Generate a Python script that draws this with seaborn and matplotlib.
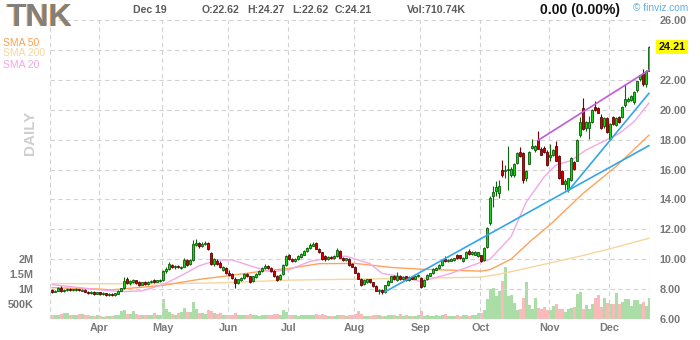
import numpy as np
import pandas as pd
import matplotlib
matplotlib.use("Agg")
import matplotlib.pyplot as plt
import seaborn as sns

sns.set_theme(style="white")
plt.rcParams['font.family'] = ['Liberation Sans', 'DejaVu Sans']

# ---------------- data ----------------
ticker = "TNK"
holidays = ['2019-04-19', '2019-05-27', '2019-07-04', '2019-09-02', '2019-11-28']
start_date, end_date = '2019-03-08', '2019-12-19'

opens = [
    # Mar
    7.92, 7.82, 7.88, 8.08, 7.86, 7.92, 8.00, 7.93, 7.95, 8.00, 7.90, 7.95, 7.82, 7.72, 7.80, 7.70,
    # Apr
    7.78, 7.68, 7.72, 7.60, 7.70, 7.58, 7.70, 7.90, 8.05, 8.70, 8.40, 8.50, 8.60, 8.45, 8.30, 8.50,
    8.35, 8.50, 8.60, 8.50, 8.55,
    # May
    8.60, 9.20, 9.35, 9.60, 9.45, 9.55, 9.42, 9.50, 9.95, 9.70, 9.95, 10.95, 11.10, 10.90, 11.00,
    11.10, 10.40, 9.65, 9.90, 9.75, 9.30, 9.40,
    # Jun
    9.10, 9.00, 8.70, 8.40, 8.60, 8.75, 9.00, 8.85, 8.55, 8.80, 9.00, 9.20, 9.40, 9.55, 9.40, 9.20,
    8.90, 8.65, 9.00, 9.60,
    # Jul
    10.25, 10.00, 9.85, 10.00, 10.15, 10.30, 10.55, 10.75, 10.90, 11.10, 10.70, 10.45, 10.20, 10.00,
    10.15, 10.05, 10.20, 10.55, 10.10, 9.95, 10.00, 9.70,
    # Aug
    9.50, 9.05, 8.70, 8.35, 8.50, 8.65, 8.45, 8.20, 7.85, 7.95, 7.80, 8.25, 8.50, 8.90, 8.60, 8.85,
    8.65, 8.85, 8.60, 8.80, 8.70, 8.85,
    # Sep
    8.75, 8.20, 8.65, 8.90, 9.05, 9.30, 9.40, 9.60, 10.00, 9.85, 9.90, 9.95, 10.30, 10.25, 9.85,
    10.10, 10.55, 10.35, 10.30, 10.20,
    # Oct
    10.25, 9.95, 10.80, 12.45, 14.25, 14.55, 14.40, 15.95, 15.90, 15.95, 15.60, 15.60, 16.45, 17.15,
    17.10, 15.40, 16.40, 17.45, 17.30, 17.95, 17.40, 17.45, 17.20,
    # Nov
    16.85, 17.00, 17.60, 16.90, 15.90, 15.05, 14.60, 15.30, 16.50, 16.60, 18.30, 20.10, 18.75, 18.80,
    19.20, 20.20, 20.10, 19.50, 18.90, 19.45,
    # Dec
    18.05, 19.50, 18.95, 19.50, 19.50, 20.30, 20.60, 20.65, 20.50, 21.30, 22.05, 22.40, 21.70, 22.62,
]
highs = [
    7.98, 7.95, 8.15, 8.20, 8.00, 8.05, 8.06, 8.02, 8.05, 8.04, 8.02, 7.98, 7.86, 7.85, 7.84, 7.82,
    7.82, 7.80, 7.76, 7.74, 7.72, 7.76, 7.94, 8.10, 8.80, 8.82, 8.60, 8.66, 8.64, 8.52, 8.50, 8.56,
    8.54, 8.60, 8.66, 8.64, 8.66,
    9.30, 9.45, 9.80, 9.68, 9.60, 9.62, 9.56, 10.10, 10.02, 10.00, 11.30, 11.35, 11.15, 11.12, 11.20,
    11.14, 10.50, 10.10, 9.98, 9.85, 9.56, 9.48,
    9.25, 9.06, 8.78, 8.70, 8.80, 9.08, 9.05, 8.90, 8.90, 9.05, 9.26, 9.45, 9.70, 9.62, 9.45, 9.25,
    8.94, 9.00, 9.65, 10.30,
    10.35, 10.08, 10.05, 10.25, 10.40, 10.60, 10.80, 11.10, 11.15, 11.14, 10.76, 10.50, 10.28, 10.20,
    10.22, 10.26, 10.75, 10.62, 10.16, 10.10, 10.05, 9.74,
    9.55, 9.12, 8.74, 8.65, 8.70, 8.70, 8.50, 8.25, 8.00, 8.00, 8.30, 8.60, 8.90, 8.96, 9.15, 8.92,
    8.85, 8.90, 8.85, 8.86, 8.90, 9.00,
    8.80, 8.65, 9.00, 9.10, 9.40, 9.46, 9.65, 10.00, 10.20, 10.00, 10.05, 10.10, 10.35, 10.30, 10.15,
    10.55, 10.70, 10.55, 10.55, 10.50,
    10.30, 10.80, 12.15, 14.20, 14.90, 15.20, 15.30, 16.65, 16.30, 17.55, 16.20, 16.45, 17.15, 17.50,
    17.20, 16.00, 17.25, 18.05, 17.65, 18.60, 17.50, 17.55, 17.30,
    17.70, 17.35, 17.90, 16.95, 16.00, 15.35, 15.45, 16.85, 16.60, 18.05, 19.50, 20.80, 19.25, 19.60,
    20.05, 20.60, 20.15, 19.70, 19.50, 19.50,
    19.10, 19.60, 19.50, 19.60, 20.25, 21.70, 20.85, 21.00, 21.25, 21.95, 22.35, 22.70, 22.65, 24.27,
]
lows = [
    7.74, 7.78, 7.85, 7.78, 7.82, 7.88, 7.90, 7.88, 7.90, 7.86, 7.86, 7.78, 7.66, 7.68, 7.62, 7.64,
    7.62, 7.60, 7.55, 7.52, 7.52, 7.54, 7.66, 7.86, 8.00, 8.35, 8.30, 8.42, 8.36, 8.24, 8.26, 8.30,
    8.30, 8.44, 8.44, 8.46, 8.50,
    8.56, 9.10, 9.30, 9.38, 9.36, 9.38, 9.36, 9.46, 9.55, 9.62, 9.90, 10.85, 10.75, 10.84, 10.95,
    10.62, 9.62, 9.55, 9.62, 9.40, 9.22, 9.02,
    8.88, 8.70, 8.05, 8.32, 8.55, 8.70, 8.80, 8.40, 8.50, 8.76, 8.95, 9.15, 9.35, 9.32, 9.15, 8.80,
    8.55, 8.60, 8.95, 9.55,
    9.95, 9.78, 9.80, 9.95, 10.10, 10.25, 10.50, 10.70, 10.85, 10.65, 10.40, 9.95, 9.90, 9.94,
    9.98, 10.00, 10.15, 10.05, 9.90, 9.90, 9.55, 9.45,
    9.05, 8.65, 8.22, 8.30, 8.42, 8.40, 8.15, 7.85, 7.70, 7.65, 7.76, 8.20, 8.45, 8.60, 8.55, 8.60,
    8.60, 8.55, 8.56, 8.65, 8.66, 8.80,
    8.10, 8.15, 8.60, 8.85, 9.00, 9.25, 9.35, 9.55, 9.80, 9.80, 9.85, 9.90, 10.00, 10.00, 9.80,
    10.05, 10.30, 10.30, 10.25, 10.15,
    9.80, 9.90, 10.75, 12.30, 13.50, 14.20, 14.10, 15.50, 15.40, 14.60, 15.50, 15.50, 16.40, 16.85,
    15.10, 15.20, 16.35, 17.35, 17.20, 17.35, 16.95, 17.10, 16.25,
    16.60, 16.90, 16.55, 15.35, 15.00, 14.60, 14.50, 15.25, 16.00, 16.55, 18.20, 18.65, 18.60, 18.05,
    19.10, 19.90, 19.75, 18.70, 18.80, 18.45,
    18.00, 19.00, 18.90, 19.10, 19.45, 20.20, 20.50, 20.60, 20.40, 21.20, 21.90, 21.60, 21.55, 22.62,
]
closes = [
    7.82, 7.90, 8.05, 7.85, 7.95, 8.00, 7.95, 7.98, 8.00, 7.92, 7.97, 7.82, 7.72, 7.80, 7.70, 7.78,
    7.68, 7.72, 7.60, 7.70, 7.58, 7.72, 7.90, 8.05, 8.55, 8.40, 8.55, 8.60, 8.40, 8.30, 8.45, 8.35,
    8.50, 8.55, 8.50, 8.60, 8.60,
    9.20, 9.35, 9.65, 9.45, 9.55, 9.45, 9.50, 9.95, 9.60, 9.95, 11.05, 11.10, 10.85, 11.05, 11.10,
    10.65, 9.70, 10.00, 9.70, 9.45, 9.50, 9.10,
    8.95, 8.75, 8.40, 8.65, 8.75, 9.00, 8.85, 8.50, 8.85, 9.00, 9.20, 9.40, 9.55, 9.40, 9.20, 8.85,
    8.60, 8.95, 9.60, 10.20,
    10.00, 9.85, 10.00, 10.20, 10.35, 10.55, 10.75, 10.95, 11.05, 10.70, 10.45, 10.00, 10.00, 10.15,
    10.05, 10.20, 10.60, 10.10, 9.95, 10.05, 9.60, 9.50,
    9.10, 8.70, 8.30, 8.60, 8.65, 8.45, 8.20, 7.90, 7.95, 7.80, 8.25, 8.55, 8.85, 8.65, 8.90, 8.65,
    8.80, 8.60, 8.80, 8.70, 8.85, 8.95,
    8.15, 8.60, 8.95, 9.05, 9.35, 9.40, 9.60, 9.95, 9.85, 9.95, 10.00, 10.05, 10.05, 10.05, 10.10,
    10.50, 10.35, 10.50, 10.50, 10.45,
    9.85, 10.75, 12.10, 14.10, 14.50, 14.85, 14.90, 15.65, 16.00, 16.05, 16.05, 16.40, 17.10, 16.90,
    15.30, 15.90, 17.20, 17.60, 17.55, 17.40, 17.00, 17.15, 16.30,
    16.95, 17.30, 16.60, 15.40, 15.05, 15.25, 15.40, 16.80, 16.05, 18.00, 19.15, 18.70, 19.20, 19.15,
    20.00, 19.95, 19.80, 18.75, 19.45, 18.50,
    19.05, 19.05, 19.45, 19.15, 20.20, 20.70, 20.70, 20.90, 21.20, 21.90, 22.30, 21.70, 22.60, 24.21,
]
volumes_k = [
    120, 140, 130, 170, 200, 190, 150, 140, 130, 170, 180, 150, 130, 110, 100, 120,
    90, 80, 100, 110, 90, 120, 130, 280, 300, 170, 160, 270, 170, 130, 120, 140, 130, 120, 200, 140, 130,
    670, 330, 220, 160, 130, 200, 250, 380, 250, 230, 560, 350, 200, 190, 180, 290, 280, 200, 170, 200,
    150, 140,
    150, 140, 200, 150, 130, 120, 140, 160, 130, 120, 110, 120, 120, 140, 150, 170, 160, 140, 300, 220,
    150, 130, 120, 110, 120, 130, 140, 150, 130, 160, 150, 170, 120, 110, 100, 110, 130, 140, 120, 110,
    150, 130,
    170, 260, 180, 110, 100, 100, 120, 130, 150, 110, 100, 120, 130, 120, 110, 170, 100, 130, 110, 100,
    110, 120,
    260, 110, 120, 110, 100, 120, 110, 150, 170, 110, 100, 110, 120, 110, 130, 120, 110, 130, 130, 200,
    200, 300, 660, 1000, 1020, 770, 930, 1270, 1720, 770, 800, 540, 300, 340, 710, 1220, 470, 340, 700,
    370, 340, 400, 300,
    300, 430, 500, 340, 340, 250, 340, 380, 400, 820, 910, 330, 470, 340, 500, 700, 810, 400, 700, 550,
    500, 500, 880, 500, 580, 660, 660, 440, 630, 620, 500, 560, 440, 710.74,
]

# moving averages (trading-day index, price)
sma20_idx = [0, 9, 16, 23, 30, 37, 43, 49, 55, 60, 67, 73, 79, 86, 94, 98, 106, 110, 116, 123, 133,
             143, 146, 153, 158, 164, 168, 173, 178, 185, 189, 194, 199]
sma20_val = [8.30, 8.10, 7.95, 7.83, 7.88, 8.30, 8.90, 9.55, 9.95, 9.95, 9.50, 9.15, 9.30, 9.85, 10.15,
             10.20, 9.70, 9.05, 8.85, 8.50, 9.05, 9.80, 10.00, 11.50, 13.80, 15.50, 16.30, 16.60, 17.30,
             18.00, 18.40, 19.20, 20.45]
sma50_idx = [0, 16, 20, 37, 49, 59, 72, 79, 89, 101, 113, 123, 143, 146, 153, 160, 166, 177, 188, 199]
sma50_val = [8.10, 8.00, 7.95, 8.25, 8.65, 8.90, 9.25, 9.38, 9.70, 9.72, 9.45, 9.33, 9.20, 9.30, 10.00,
             11.30, 12.30, 14.40, 16.20, 18.30]
sma200_idx = [0, 36, 56, 79, 113, 143, 149, 156, 166, 176, 186, 199]
sma200_val = [8.37, 8.35, 8.42, 8.60, 8.70, 8.80, 9.00, 9.30, 9.75, 10.20, 10.70, 11.40]

# trend lines (trading-day index, price)
trend_low_long_idx = [111, 199]
trend_low_long_val = [7.82, 17.60]
trend_low_short_idx = [172, 199]
trend_low_short_val = [14.55, 21.10]
trend_high_idx = [162, 199]
trend_high_val = [17.95, 22.65]

price_ticks = [6, 8, 10, 12, 14, 16, 18, 20, 22, 24, 26]
vol_ticks_k = [500, 1000, 1500, 2000]
vol_tick_labels = ["500K", "1M", "1.5M", "2M"]
month_labels = ["Apr", "May", "Jun", "Jul", "Aug", "Sep", "Oct", "Nov", "Dec"]

# ---------------- derived ----------------
dates = pd.bdate_range(start_date, end_date)
dates = dates[~dates.isin(pd.to_datetime(holidays))]
n = len(opens)
x = np.arange(n)
o = np.array(opens); h = np.array(highs); l = np.array(lows); c = np.array(closes)
up = c >= o
month_first = [int(np.argmax(dates.month == m)) for m in range(4, 13)]

W, H = 700, 340
fig = plt.figure(figsize=(W / 100, H / 100), dpi=100)
fig.patch.set_facecolor("white")
ax = fig.add_axes([50 / W, 21 / H, 600 / W, 299 / H])
axv = ax.twinx()
ax.set_zorder(2)
axv.set_zorder(1)
ax.patch.set_visible(False)
axv.patch.set_facecolor("white")

# volume
vcol = np.where(up, "#abdea6", "#fbbaba")
axv.bar(x, volumes_k, width=1.0, color=vcol, linewidth=0)
axv.set_ylim(0, 9970)
axv.yaxis.tick_left()
axv.set_yticks(vol_ticks_k)
axv.set_yticklabels(vol_tick_labels)
axv.tick_params(axis="y", length=0, pad=12, labelsize=7.8, labelcolor="#777777")
for lab in axv.get_yticklabels():
    lab.set_fontweight("bold")

ax.set_xlim(-0.67, n - 0.67)
ax.set_ylim(6, 26)

# grid
grid_kw = dict(color="#d2d2d2", linewidth=0.8, linestyle=(0, (4, 3)), zorder=0)
for p in price_ticks:
    ax.axhline(p, **grid_kw)
for mf in month_first:
    ax.axvline(mf - 0.2, **grid_kw)
ax.axvline(-0.6, **grid_kw)
ax.axvline(n - 0.7, **grid_kw)

# SMAs
sns.lineplot(x=sma200_idx, y=sma200_val, ax=ax, color="#f6d69c", linewidth=1.0, zorder=1,
             estimator=None, sort=False, legend=False)
sns.lineplot(x=sma50_idx, y=sma50_val, ax=ax, color="#ffa25c", linewidth=1.0, zorder=1,
             estimator=None, sort=False, legend=False)
sns.lineplot(x=sma20_idx, y=sma20_val, ax=ax, color="#f3a8e6", linewidth=1.0, zorder=1,
             estimator=None, sort=False, legend=False)

# candles
wick_col = np.where(up, "#0a6a0a", "#7a0000")
ax.vlines(x, l, h, colors=wick_col, linewidth=0.8, zorder=2)
body_bottom = np.minimum(o, c)
body_h = np.abs(c - o)
ax.bar(x, body_h, bottom=body_bottom, width=0.72,
       color=np.where(up, "#16d616", "#d40000"),
       edgecolor=np.where(up, "#0a5a0a", "#600000"), linewidth=0.6, zorder=3)

# trend lines
sns.lineplot(x=trend_low_long_idx, y=trend_low_long_val, ax=ax, color="#33a6ea", linewidth=1.2,
             zorder=4, estimator=None, sort=False, legend=False)
sns.lineplot(x=trend_low_short_idx, y=trend_low_short_val, ax=ax, color="#33a6ea", linewidth=1.2,
             zorder=4, estimator=None, sort=False, legend=False)
sns.lineplot(x=trend_high_idx, y=trend_high_val, ax=ax, color="#c25ad8", linewidth=1.2,
             zorder=4, estimator=None, sort=False, legend=False)

# axes ticks
ax.yaxis.tick_right()
ax.set_yticks(price_ticks)
ax.set_yticklabels(["" if p == 24 else f"{p:.2f}" for p in price_ticks])
ax.tick_params(axis="y", length=0, pad=7, labelsize=7.8, labelcolor="#777777")
for lab in ax.get_yticklabels():
    lab.set_fontweight("bold")
ax.set_xticks([mf - 0.2 for mf in month_first])
ax.set_xticklabels(month_labels)
ax.tick_params(axis="x", length=0, pad=3, labelsize=7.8, labelcolor="#7a7a7a")
for lab in ax.get_xticklabels():
    lab.set_fontweight("bold")
ax.set_xlabel(""); ax.set_ylabel(""); axv.set_ylabel("")
for a in (ax, axv):
    for s in a.spines.values():
        s.set_visible(False)
    a.grid(False)

# last price label
ax.annotate(f"{closes[-1]:.2f}", xy=(1, closes[-1]), xycoords=("axes fraction", "data"),
            xytext=(6, 0), textcoords="offset points", ha="left", va="center",
            fontsize=7.8, fontweight="bold", color="#111111",
            bbox=dict(boxstyle="square,pad=0.2", fc="#ffff00", ec="none"))

# header texts
def ft(px, py, s, **kw):
    fig.text(px / W, 1 - py / H, s, **kw)

ft(6, 18.5, ticker, fontsize=23, fontweight="bold", color="#f4a64c", va="center", ha="left")
ft(7, 17.5, ticker, fontsize=23, fontweight="bold", color="#808080", va="center", ha="left")
hdr = dict(fontsize=7.6, fontweight="bold", color="#5a5a5a", va="center", ha="left")
ft(133, 10, "Dec 19", **hdr)
ft(202, 10, f"O:{opens[-1]:.2f}", **hdr)
ft(247, 10, f"H:{highs[-1]:.2f}", **hdr)
ft(292, 10, f"L:{lows[-1]:.2f}", **hdr)
ft(335, 10, f"C:{closes[-1]:.2f}", **hdr)
ft(407, 10, f"Vol:{volumes_k[-1]:.2f}K", **hdr)
ft(540, 10, "0.00 (0.00%)", fontsize=10, fontweight="bold", color="#111111", va="center", ha="left")
ft(633, 8, "© finviz.com", fontsize=7.3, color="#5eaee8", va="center", ha="left")
ft(3, 42.5, "SMA 50", fontsize=7.5, color="#ffa04f", va="center", ha="left")
ft(3, 53.5, "SMA 200", fontsize=7.5, color="#f5d7a0", va="center", ha="left")
ft(3, 64.5, "SMA 20", fontsize=7.5, color="#f2a6e6", va="center", ha="left")
ft(30, 133, "DAILY", fontsize=11, fontweight="bold", color="#cfcfcf", va="center", ha="center",
   rotation=90)

fig.savefig("out.png", dpi=100, facecolor="white")
